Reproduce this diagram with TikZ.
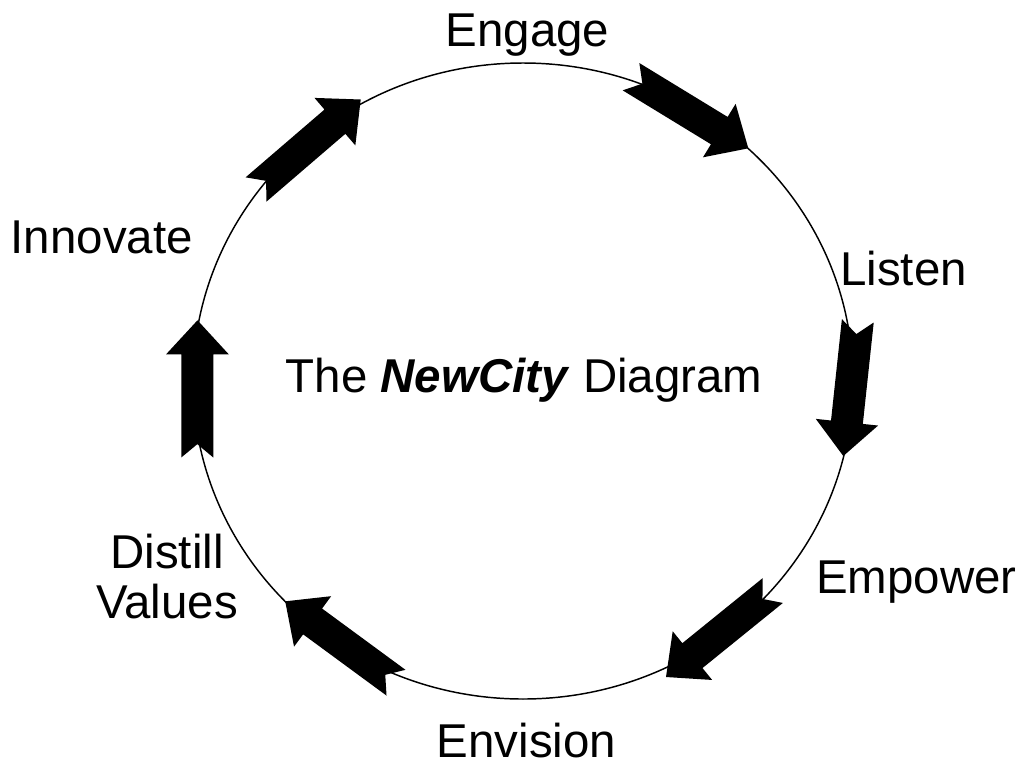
\documentclass[tikz,border=0pt]{standalone}
\usepackage{fontspec}
\setmainfont{Liberation Sans}
\usetikzlibrary{calc}

\begin{document}
\begin{tikzpicture}[x=0.75pt,y=-0.75pt,
    stage/.style={anchor=base,inner sep=0pt,align=center,font=\fontsize{35.6}{37.5}\selectfont},
    % notched block arrow from tail to tip
    blockarrow/.style={fill=black,to path={
      ($(\tikztostart)!12pt!90:(\tikztotarget)$)
      -- ($(\tikztotarget)!25.5pt!(\tikztostart)!12pt!-90:(\tikztostart)$)
      -- ($(\tikztotarget)!25.5pt!(\tikztostart)!23.5pt!-90:(\tikztostart)$)
      -- (\tikztotarget)
      -- ($(\tikztotarget)!25.5pt!(\tikztostart)!23.5pt!90:(\tikztostart)$)
      -- ($(\tikztotarget)!25.5pt!(\tikztostart)!12pt!90:(\tikztostart)$)
      -- ($(\tikztostart)!12pt!-90:(\tikztotarget)$)
      -- ($(\tikztostart)!10pt!(\tikztotarget)$)
      -- cycle}}]
    \useasboundingbox (0,0) rectangle (1023,765);

    %cycle
    \draw[line width=1.1pt] (523,381) ellipse [x radius=330, y radius=318];

    %stages
    \node (engage)   at (527.5,46)  [stage] {Engage};
    \node (listen)   at (903.5,285) [stage] {Listen};
    \node (empower)  at (916.5,593) [stage] {Empower};
    \node (envision) at (526.5,757) [stage] {Envision};
    \node (distill)  at (167,618)   [stage] {Distill\\Values};
    \node (innovate) at (101.7,253) [stage] {Innovate};
    \node (title)    at (524,392)   [stage] {The \textbf{\textit{NewCity}} Diagram};

    %arrow ends on the cycle
    \coordinate (s1) at (256,189.5);   \coordinate (e1) at (360.7,99.5);
    \coordinate (s2) at (631,76.7);    \coordinate (e2) at (748.3,148.3);
    \coordinate (s3) at (857.8,320.8); \coordinate (e3) at (843.3,456);
    \coordinate (s4) at (772.8,590.5); \coordinate (e4) at (666,677);
    \coordinate (s5) at (396,682.7);   \coordinate (e5) at (285.2,601.3);
    \coordinate (s6) at (197.3,457.5); \coordinate (e6) at (197.5,320.3);

    \foreach \i in {1,...,6}
      \path[blockarrow] (s\i) to (e\i);
\end{tikzpicture}
\end{document}
